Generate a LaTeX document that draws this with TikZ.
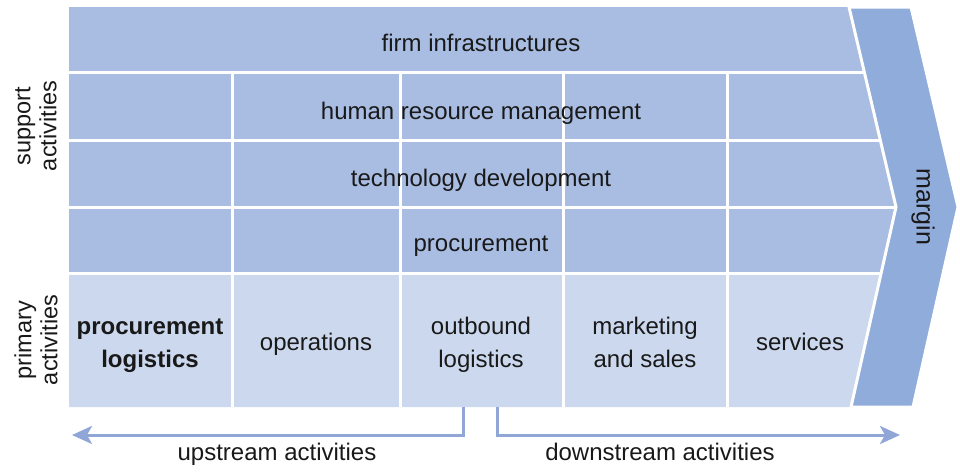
\documentclass[tikz,border=0pt]{standalone}
\usepackage{fontspec}
\setmainfont{Liberation Sans}
\usetikzlibrary{arrows.meta}
\definecolor{supp}{RGB}{169,189,227}
\definecolor{prim}{RGB}{204,216,238}
\definecolor{marg}{RGB}{143,172,218}
\definecolor{arr}{RGB}{143,166,214}
\definecolor{txt}{RGB}{25,25,25}
\begin{document}
\begin{tikzpicture}[x=1pt,y=-1pt,
  lbl/.style={text=txt, font=\fontsize{24}{33}\selectfont, align=center, inner sep=0pt, anchor=base},
  side/.style={text=txt, font=\fontsize{23.5}{26}\selectfont, align=center, inner sep=0pt},
  sep/.style={white, line width=3pt},
  flow/.style={arr, line width=3pt, -{Stealth[length=20pt,width=18pt,inset=5pt]}}]
\useasboundingbox (0,0) rectangle (960,471);
% blocks
\fill[supp] (69,7) -- (849,7) -- (896,207) -- (880.5,273) -- (69,273) -- cycle;
\fill[prim] (69,273) -- (880.5,273) -- (851,407) -- (69,407) -- cycle;
% separators
\foreach \y in {72.5,140.5,207.5,273.5} \draw[sep] (69,\y) -- (905,\y);
\foreach \x in {232,400,563,727} \draw[sep] (\x,72.5) -- (\x,407);
% margin chevron
\filldraw[fill=marg, draw=white, line width=3pt, line join=miter]
  (849,7) -- (911,7) -- (958,207) -- (913,407) -- (851,407) -- (896,207) -- cycle;
% texts
\node[lbl] (fi) at (481,51.5) {firm infrastructures};
\node[lbl] (hr) at (481,119) {human resource management};
\node[lbl] (td) at (481,186) {technology development};
\node[lbl] (pc) at (481,251) {procurement};
\node[lbl, font=\fontsize{24}{33}\selectfont\bfseries] (pl) at (150,367) {procurement\\logistics};
\node[lbl] (op) at (316,350.5) {operations};
\node[lbl] (ol) at (481,367) {outbound\\logistics};
\node[lbl] (ms) at (645,367) {marketing\\and sales};
\node[lbl] (sv) at (800,350.5) {services};
\node[side, rotate=90] (sa) at (36,126) {support\\activities};
\node[side, rotate=90] (pa) at (36,340) {primary\\activities};
\node[side, font=\fontsize{25}{26}\selectfont, rotate=-90] (mg) at (923,207) {margin};
% flows
\coordinate (ua) at (463,407);
\coordinate (ue) at (72,435);
\coordinate (da) at (497,407);
\coordinate (de) at (900,435);
\draw[flow] (ua) |- (ue);
\draw[flow] (da) |- (de);
\node[lbl] (up) at (277,460) {upstream activities};
\node[lbl] (dn) at (660,460) {downstream activities};
\end{tikzpicture}
\end{document}
